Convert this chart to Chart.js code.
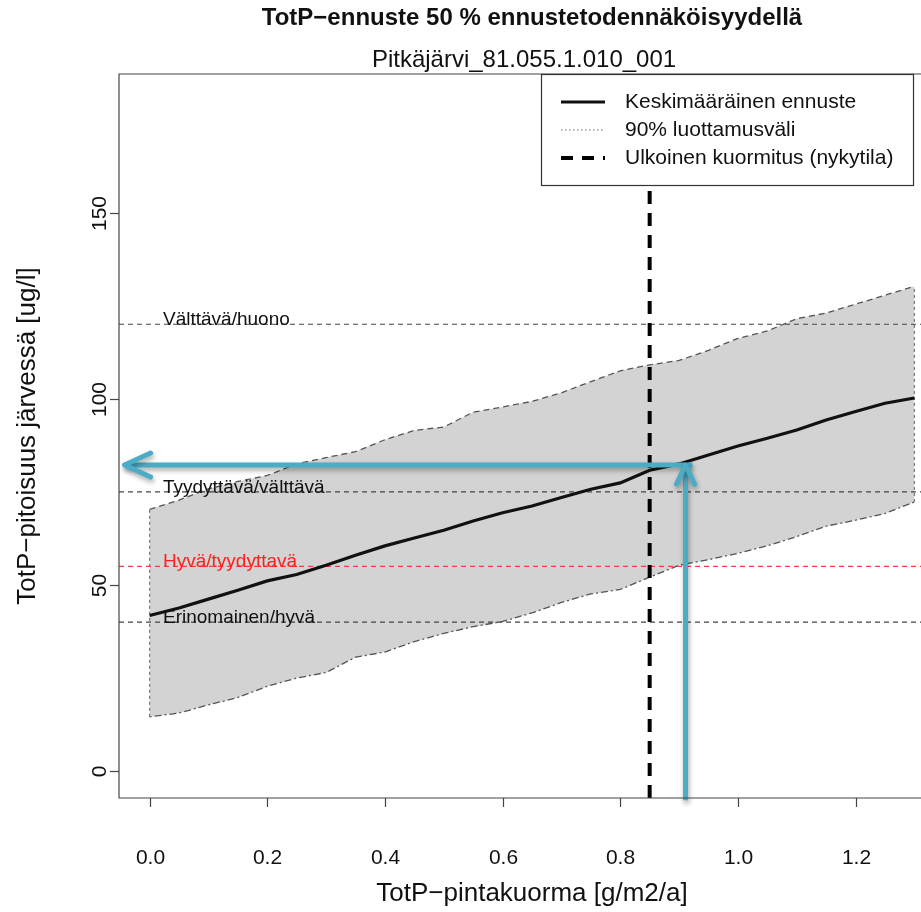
<!DOCTYPE html>
<html>
<head>
<meta charset="utf-8">
<script src="https://cdn.jsdelivr.net/npm/chart.js@4.4.0/dist/chart.umd.min.js"></script>
<style>
  html, body { margin: 0; padding: 0; overflow: hidden; background: #fff; }
  canvas { display: block; }
</style>
</head>
<body>
<canvas id="ennuste" width="960" height="912"></canvas>
<script>
// Pintakuorma (g/m2/a) ja ennusteet (ug/l)
const kuorma = [0, 0.05, 0.1, 0.15, 0.2, 0.25, 0.3, 0.35, 0.4, 0.45, 0.5, 0.55, 0.6, 0.65,
                0.7, 0.75, 0.8, 0.85, 0.9, 0.95, 1.0, 1.05, 1.1, 1.15, 1.2, 1.25, 1.3];
const keskiarvo = [41.8, 43.8, 46.2, 48.6, 51.1, 52.8, 55.3, 58.0, 60.5, 62.6, 64.7, 67.2, 69.4, 71.2,
                   73.5, 75.7, 77.4, 80.8, 82.5, 84.9, 87.3, 89.4, 91.6, 94.3, 96.6, 98.8, 100.2];
const ylaraja = [70.3, 72.8, 75.8, 77.8, 79.4, 82.5, 84.2, 85.8, 89.0, 91.5, 92.4, 96.4, 97.8, 99.3,
                 101.6, 104.6, 107.5, 109.1, 110.3, 113.0, 116.2, 118.2, 121.5, 123.0, 125.4, 127.8, 130.2];
const alaraja = [14.6, 15.6, 17.8, 19.8, 22.8, 25.0, 26.5, 30.6, 32.0, 34.8, 37.0, 38.8, 40.2, 42.5,
                 45.3, 47.6, 48.8, 52.1, 55.3, 56.8, 58.5, 60.5, 63.0, 65.8, 67.4, 69.2, 72.3];

const nykykuorma = 0.85;
const rajaArvot = [120, 75, 55, 40];
const rajaNimet = ['Välttävä/huono', 'Tyydyttävä/välttävä', 'Hyvä/tyydyttavä', 'Erinomainen/hyvä'];
const rajaVarit = ['#444', '#444', '#ff3b3b', '#444'];

const xTicks = [0, 0.2, 0.4, 0.6, 0.8, 1.0, 1.2];
const xTickLabels = ['0.0', '0.2', '0.4', '0.6', '0.8', '1.0', '1.2'];
const yTicks = [0, 50, 100, 150];
const yTickLabels = ['0', '50', '100', '150'];

const legendaNimet = ['Keskimääräinen ennuste', '90% luottamusväli', 'Ulkoinen kuormitus (nykytila)'];

// sininen nuolimerkintä
const nuoliVaaka = [[0.923, 82.2], [-0.0425, 82.2]];
const nuoliPysty = [[0.911, -7.8], [0.911, 82.2]];

const X_MIN = -0.052, X_MAX = 1.352, Y_MIN = -7.2, Y_MAX = 187.2;
const FONTTI = "'Liberation Sans', Arial, sans-serif";
const SININEN = '#4bacc6';

const pisteet = (xs, ys) => xs.map((x, i) => ({ x: x, y: ys[i] }));
const pari = arr => arr.map(p => ({ x: p[0], y: p[1] }));

const datasets = [
    {   // 90% luottamusväli, ylä
        data: pisteet(kuorma, ylaraja), borderColor: '#555', borderWidth: 1.3,
        borderDash: [6, 4], backgroundColor: '#d3d3d3', fill: '+1', order: 20
    },
    {   // ala
        data: pisteet(kuorma, alaraja), borderColor: '#555', borderWidth: 1.3,
        borderDash: [2, 3, 7, 3], fill: false, order: 19
    },
    {
        data: [{ x: kuorma[0], y: alaraja[0] }, { x: kuorma[0], y: ylaraja[0] }],
        borderColor: '#777', borderWidth: 1.2, borderDash: [3, 3], fill: false, order: 18
    },
    {
        data: [{ x: kuorma[kuorma.length - 1], y: alaraja[alaraja.length - 1] },
               { x: kuorma[kuorma.length - 1], y: ylaraja[ylaraja.length - 1] }],
        borderColor: '#777', borderWidth: 1.2, borderDash: [3, 3], fill: false, order: 18
    }
];

rajaArvot.forEach((v, i) => {
    datasets.push({
        data: [{ x: X_MIN, y: v }, { x: X_MAX, y: v }],
        borderColor: rajaVarit[i], borderWidth: 1.2, borderDash: [5, 4], fill: false, order: 10
    });
});

datasets.push({
    data: pisteet(kuorma, keskiarvo), borderColor: '#111', borderWidth: 3.2, fill: false, order: 5
});
datasets.push({
    data: [{ x: nykykuorma, y: Y_MIN }, { x: nykykuorma, y: Y_MAX }],
    borderColor: '#000', borderWidth: 4, borderDash: [13, 9], fill: false, order: 4
});
datasets.push({
    data: pari(nuoliVaaka), borderColor: SININEN, borderWidth: 5, fill: false, order: 1,
    clip: false, nuoli: { taakse: 26, sivu: 12 }
});
datasets.push({
    data: pari(nuoliPysty), borderColor: SININEN, borderWidth: 5, fill: false, order: 0,
    clip: false, nuoli: { taakse: 19, sivu: 9 }
});

datasets.forEach(d => { d.pointRadius = 0; d.tension = 0; d.borderCapStyle = 'butt'; });

// akselit, tekstit ja legenda piirretään itse R-tyylillä
const rKuva = {
    id: 'rKuva',
    beforeDatasetDraw(chart, args) {
        const ds = chart.data.datasets[args.index];
        if (ds.nuoli) {
            const ctx = chart.ctx;
            ctx.save();
            ctx.shadowColor = 'rgba(0,0,0,0.35)';
            ctx.shadowBlur = 5;
            ctx.shadowOffsetX = 1;
            ctx.shadowOffsetY = 3;
        }
    },
    afterDatasetDraw(chart, args) {
        const ds = chart.data.datasets[args.index];
        if (!ds.nuoli) return;
        const ctx = chart.ctx;
        const xs = chart.scales.x, ys = chart.scales.y;
        const n = ds.data.length;
        const kx = xs.getPixelForValue(ds.data[n - 1].x), ky = ys.getPixelForValue(ds.data[n - 1].y);
        const ax = xs.getPixelForValue(ds.data[n - 2].x), ay = ys.getPixelForValue(ds.data[n - 2].y);
        const kulma = Math.atan2(ky - ay, kx - ax);
        const b = ds.nuoli.taakse, s = ds.nuoli.sivu;
        const cos = Math.cos(kulma), sin = Math.sin(kulma);
        ctx.strokeStyle = ds.borderColor;
        ctx.lineWidth = 5;
        ctx.lineCap = 'round';
        ctx.lineJoin = 'round';
        ctx.setLineDash([]);
        ctx.beginPath();
        ctx.moveTo(kx - b * cos - s * sin, ky - b * sin + s * cos);
        ctx.lineTo(kx, ky);
        ctx.lineTo(kx - b * cos + s * sin, ky - b * sin - s * cos);
        ctx.stroke();
        ctx.restore();
    },
    afterDraw(chart) {
        const ctx = chart.ctx;
        const a = chart.chartArea;
        const xs = chart.scales.x, ys = chart.scales.y;
        ctx.save();
        ctx.setLineDash([]);

        // raja-arvojen nimet
        ctx.font = '19px ' + FONTTI;
        ctx.textAlign = 'left';
        ctx.textBaseline = 'alphabetic';
        rajaArvot.forEach((v, i) => {
            ctx.fillStyle = rajaVarit[i] === '#444' ? '#111' : '#ff2020';
            ctx.fillText(rajaNimet[i], a.left + 44, ys.getPixelForValue(v) + 1);
        });

        // kehys
        ctx.strokeStyle = '#444';
        ctx.lineWidth = 1.2;
        ctx.beginPath();
        ctx.moveTo(a.right, a.top);
        ctx.lineTo(a.left, a.top);
        ctx.lineTo(a.left, a.bottom);
        ctx.lineTo(a.right, a.bottom);
        ctx.stroke();

        // x-akseli
        ctx.fillStyle = '#111';
        ctx.font = '21px ' + FONTTI;
        ctx.textAlign = 'center';
        ctx.textBaseline = 'middle';
        xTicks.forEach((t, i) => {
            const px = Math.round(xs.getPixelForValue(t)) + 0.5;
            ctx.beginPath();
            ctx.moveTo(px, a.bottom);
            ctx.lineTo(px, a.bottom + 9);
            ctx.stroke();
            ctx.fillText(xTickLabels[i], px, a.bottom + 60);
        });

        // y-akseli
        yTicks.forEach((t, i) => {
            const py = Math.round(ys.getPixelForValue(t)) + 0.5;
            ctx.beginPath();
            ctx.moveTo(a.left, py);
            ctx.lineTo(a.left - 9, py);
            ctx.stroke();
            ctx.save();
            ctx.translate(a.left - 19, py);
            ctx.rotate(-Math.PI / 2);
            ctx.fillText(yTickLabels[i], 0, 0);
            ctx.restore();
        });

        // akselien nimet
        const keskiX = (a.left + a.right) / 2;
        ctx.font = '26px ' + FONTTI;
        ctx.fillText('TotP\u2212pintakuorma [g/m2/a]', keskiX, a.bottom + 96);
        ctx.save();
        ctx.translate(28, (a.top + a.bottom) / 2);
        ctx.rotate(-Math.PI / 2);
        ctx.fillText('TotP\u2212pitoisuus järvessä [ug/l]', 0, 0);
        ctx.restore();

        // otsikot
        ctx.font = 'bold 24px ' + FONTTI;
        ctx.fillText('TotP\u2212ennuste 50 % ennustetodennäköisyydellä', keskiX, 18);
        ctx.font = '24px ' + FONTTI;
        ctx.fillText('Pitkäjärvi_81.055.1.010_001', keskiX - 8, 60);

        // legenda
        const lx = 541, ly = a.top, lw = 913 - 541, lh = 185 - a.top;
        ctx.fillStyle = '#fff';
        ctx.fillRect(lx, ly, lw, lh);
        ctx.strokeStyle = '#333';
        ctx.lineWidth = 1.2;
        ctx.strokeRect(lx + 0.5, ly + 0.5, lw, lh);
        const rivit = [102, 130, 158];
        const tyylit = [
            { w: 3.2, dash: [], c: '#111' },
            { w: 1, dash: [1.5, 2.5], c: '#666' },
            { w: 4, dash: [12, 9], c: '#000' }
        ];
        rivit.forEach((ry, i) => {
            ctx.strokeStyle = tyylit[i].c;
            ctx.lineWidth = tyylit[i].w;
            ctx.setLineDash(tyylit[i].dash);
            ctx.beginPath();
            ctx.moveTo(561, ry);
            ctx.lineTo(605, ry);
            ctx.stroke();
        });
        ctx.setLineDash([]);
        ctx.fillStyle = '#111';
        ctx.font = '21px ' + FONTTI;
        ctx.textAlign = 'left';
        legendaNimet.forEach((t, i) => ctx.fillText(t, 625, rivit[i]));
        ctx.restore();
    }
};

new Chart(document.getElementById('ennuste'), {
    type: 'line',
    data: { datasets: datasets },
    options: {
        responsive: false,
        animation: false,
        events: [],
        layout: { padding: { left: 119, top: 74, right: 15, bottom: 114 } },
        scales: {
            x: { type: 'linear', min: X_MIN, max: X_MAX, display: false },
            y: { type: 'linear', min: Y_MIN, max: Y_MAX, display: false }
        },
        plugins: {
            legend: { display: false },
            tooltip: { enabled: false },
            filler: { propagate: false }
        }
    },
    plugins: [rKuva]
});
</script>
</body>
</html>
